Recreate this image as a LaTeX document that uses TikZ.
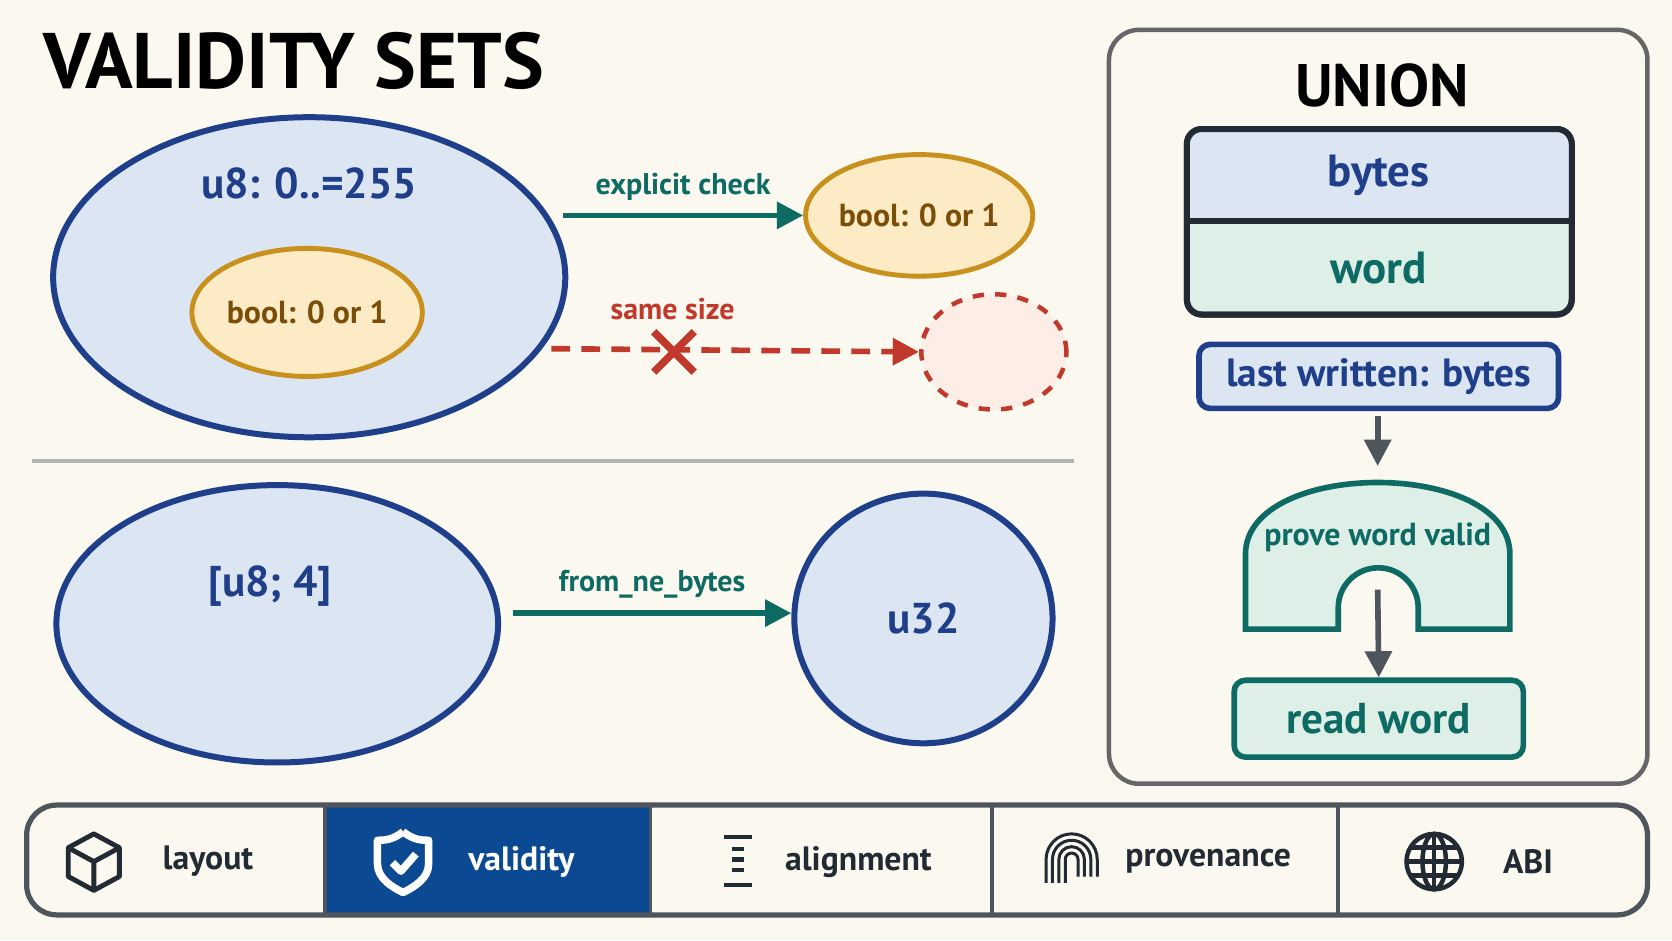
\documentclass[tikz,border=0pt]{standalone}
\usepackage{fontspec}
\setmainfont{PT Sans}
\usetikzlibrary{shapes.geometric,arrows.meta}
\definecolor{paper}{HTML}{FBF8F0}
\definecolor{navy}{HTML}{1F3F8A}
\definecolor{setblue}{HTML}{DCE6F3}
\definecolor{gold}{HTML}{C8901C}
\definecolor{goldfill}{HTML}{FCEBC4}
\definecolor{brown}{HTML}{7A4E08}
\definecolor{teal}{HTML}{0E6B64}
\definecolor{tealfill}{HTML}{DDEFE6}
\definecolor{redline}{HTML}{C0392B}
\definecolor{pinkfill}{HTML}{FCEDE6}
\definecolor{ink}{HTML}{222A33}
\definecolor{tabblue}{HTML}{0B4A93}
\begin{document}
\begin{tikzpicture}[x=0.01cm, y=-0.01cm]
        % Define styles
        \tikzstyle{set}=[ellipse, draw=navy, line width=1.6pt, fill=setblue, inner sep=0pt]
        \tikzstyle{boolset}=[ellipse, draw=gold, line width=1.3pt, fill=goldfill, inner sep=0pt, text=brown, font=\bfseries\fontsize{8.5}{10}\selectfont]
        \tikzstyle{setlabel}=[text=navy, font=\bfseries\fontsize{11.5}{14}\selectfont]
        \tikzstyle{arrow}=[-{Triangle[length=7pt, width=7pt]}, line width=1.5pt]
        \tikzstyle{edgelabel}=[font=\bfseries\fontsize{8}{10}\selectfont]
        \tikzstyle{box}=[draw, rounded corners=3pt, line width=1.5pt, font=\bfseries]
        \tikzstyle{tab}=[font=\bfseries\fontsize{9}{11}\selectfont, text=ink]

        \fill[paper] (0,0) rectangle (1568,882);
        \useasboundingbox (0,0) rectangle (1568,882);

        % Title
        \node[anchor=west, font=\bfseries\fontsize{21}{24}\selectfont, text=black] (title) at (28,57) {VALIDITY SETS};

        % u8 set with bool inside
        \node[set, minimum width=4.8cm, minimum height=3cm] (u8) at (290,260) {};
        \node[setlabel] (u8label) at (290,172) {u8: 0..=255};
        \node[boolset, minimum width=2.16cm, minimum height=1.2cm] (boolin) at (288,293) {bool: 0 or 1};

        % explicit check
        \node[boolset, minimum width=1.96cm, minimum height=1.14cm] (boolout) at (862,202) {bool: 0 or 1};
        \coordinate (checkstart) at (528,202);
        \draw[arrow, teal] (checkstart) -- (boolout.west) node[midway, above=0pt, edgelabel, text=teal] {explicit check};

        % same size
        \node[ellipse, draw=redline, dashed, line width=1.2pt, fill=pinkfill, minimum width=1.36cm, minimum height=1.08cm] (ghost) at (932,330) {};
        \coordinate (samestart) at (517,327);
        \draw[arrow, redline, dash pattern=on 5pt off 3pt] (samestart) -- (ghost.west) node[pos=0.33, above=4pt, edgelabel, text=redline] {same size};
        \node (cross) at (632,330) {};
        \draw[redline, line width=2pt] (cross.center) ++(-19,-19) -- ++(38,38) (cross.center) ++(19,-19) -- ++(-38,38);

        % divider
        \draw[gray!60, line width=1pt] (30,432) -- (1007,432);

        % [u8; 4] -> u32
        \node[set, minimum width=4.14cm, minimum height=2.6cm] (bytes4) at (260,585) {};
        \node[setlabel] (bytes4label) at (253,550) {[u8; 4]};
        \node[set, minimum width=2.42cm, minimum height=2.34cm, setlabel] (u32) at (866,580) {u32};
        \coordinate (fromstart) at (481,575);
        \draw[arrow, teal] (fromstart) -- (fromstart -| u32.west) node[midway, above=0pt, edgelabel, text=teal] {from\_ne\_bytes};

        % UNION panel
        \draw[gray!80!black, line width=1.2pt, rounded corners=8pt] (1040,28) rectangle (1545,735);
        \node[font=\bfseries\fontsize{16}{18}\selectfont, text=black] (union) at (1296,80) {UNION};
        \draw[ink, line width=1.6pt, rounded corners=4pt, fill=tealfill] (1113,121) rectangle (1474,295);
        \fill[setblue, rounded corners=3pt] (1114,122) rectangle (1473,207);
        \draw[ink, line width=1.6pt, rounded corners=4pt] (1113,121) rectangle (1474,295);
        \draw[ink, line width=1.6pt] (1113,207) -- (1474,207);
        \node[text=navy, font=\bfseries\fontsize{12}{14}\selectfont] (fbytes) at (1293,164) {bytes};
        \node[text=teal, font=\bfseries\fontsize{12}{14}\selectfont] (fword) at (1293,251) {word};
        \node[box, draw=navy, fill=setblue, text=navy, minimum width=3.37cm, minimum height=0.6cm, font=\bfseries\fontsize{10.5}{13}\selectfont] (last) at (1293,353) {last written: bytes};
        % arch
        \draw[teal, line width=1.5pt, fill=tealfill]
            (1168,590) -- (1168,520) .. controls (1168,430) and (1416,430) .. (1416,520)
            -- (1416,590) -- (1330,590) -- (1330,570) arc[start angle=0, end angle=-180, radius=37.5]
            -- (1255,590) -- cycle;
        \node[text=teal, font=\bfseries\fontsize{8.5}{10}\selectfont] (prove) at (1292,504) {prove word valid};
        \node[box, draw=teal, fill=tealfill, text=teal, minimum width=2.71cm, minimum height=0.72cm, font=\bfseries\fontsize{11.5}{14}\selectfont] (read) at (1293,674) {read word};
        \coordinate (provemid) at (1292,553);
        \coordinate (lastbelow) at (1292,390);
        \draw[arrow, ink!80] (lastbelow) -- (1292,437);
        \draw[arrow, ink!80] (provemid) -- (read.north);

        % Bottom tabs
        \fill[tabblue] (305,755) rectangle (610,858);
        \draw[ink!80, line width=1.4pt, rounded corners=8pt] (25,755) rectangle (1545,858);
        \foreach \x in {305,610,930,1255} \draw[ink!80, line width=1pt] (\x,755) -- (\x,858);
        \node[tab] (tlayout) at (195,808) {layout};
        \node[tab, text=white] (tvalid) at (489,808) {validity};
        \node[tab] (talign) at (805,808) {alignment};
        \node[tab] (tprov) at (1133,808) {provenance};
        \node[tab] (tabi) at (1433,808) {ABI};
        % icons
        \begin{scope}[shift={(88,808)}, ink, line width=1.3pt, line join=round]
            \draw (0,-26) -- (24,-13) -- (24,14) -- (0,27) -- (-24,14) -- (-24,-13) -- cycle;
            \draw (-24,-13) -- (0,0) -- (24,-13) (0,0) -- (0,27);
        \end{scope}
        \begin{scope}[shift={(378,808)}, white, line width=2pt, line join=round]
            \draw (0,-28) .. controls (10,-20) and (18,-20) .. (24,-20) -- (24,2) .. controls (24,16) and (10,24) .. (0,29) .. controls (-10,24) and (-24,16) .. (-24,2) -- (-24,-20) .. controls (-18,-20) and (-10,-20) .. (0,-28);
            \draw (-10,1) -- (-2,9) -- (12,-7);
        \end{scope}
        \begin{scope}[shift={(692,808)}, ink, line width=1.2pt]
            \draw (-13,-23) -- (13,-23) (-6,-12) -- (6,-12) (-6,-2) -- (6,-2) (-6,8) -- (6,8) (-13,22) -- (13,22);
        \end{scope}
        \begin{scope}[shift={(1005,806)}, ink, line width=0.8pt]
            \foreach \r in {6,12,18,24} \draw (-\r,22) -- (-\r,0) arc[start angle=180, end angle=360, radius=\r] -- (\r,16);
        \end{scope}
        \begin{scope}[shift={(1345,808)}, ink, line width=1.2pt]
            \draw (0,0) circle[radius=26];
            \draw (0,0) ellipse[x radius=11, y radius=26];
            \draw (0,-26) -- (0,26) (-26,0) -- (26,0) (-22,-13) -- (22,-13) (-22,13) -- (22,13);
        \end{scope}
\end{tikzpicture}
\end{document}
